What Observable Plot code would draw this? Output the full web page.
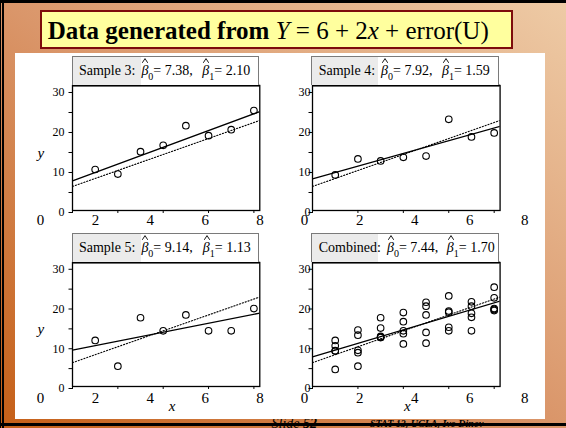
<!DOCTYPE html>
<html><head><meta charset="utf-8">
<script src="https://cdn.jsdelivr.net/npm/d3@7"></script>
<script src="https://cdn.jsdelivr.net/npm/@observablehq/plot@0.6"></script>
<style>
html,body{margin:0;padding:0;background:#fff;}
#slide{position:relative;width:566px;height:428px;overflow:hidden;
  background:linear-gradient(to top right,#c55f17 0%,#da966a 50%,#eecba6 100%);
  font-family:"Liberation Serif","Times New Roman",serif;color:#000;}
.abs{position:absolute;}
#white{left:15px;top:53px;width:530px;height:366px;background:#fff;}
#title{left:40px;top:10px;width:472.7px;height:39.3px;box-sizing:border-box;border:2.5px solid #7d0c0c;background:#ffff9e;}
#titleText{left:47.7px;top:17.6px;font-size:25px;line-height:25px;white-space:nowrap;}
.foot{white-space:nowrap;}
.hdr{box-sizing:border-box;height:29px;border:1px solid #7a7a7a;border-bottom:none;background:#fff;overflow:visible;}
.hdr .gray{position:absolute;left:0;top:0;bottom:0;background:#ebebeb;}
.hdr .txt{position:absolute;left:6.3px;top:7.3px;font-size:14px;line-height:14px;white-space:nowrap;}
.beta{position:relative;font-style:italic;display:inline-block;}
.hat{position:absolute;left:1px;top:-6px;width:6px;height:5px;overflow:visible;}
.sub{font-size:10px;position:relative;top:5px;}
.bline{left:0;width:566px;background:#000;}
.lline{top:0;height:428px;background:#000;}
svg{overflow:visible;}
</style></head>
<body>
<div id="slide">
  <div class="abs foot" style="left:271.5px;top:415.5px;font-size:14px;font-style:italic;">Slide <b>52</b></div>
  <div class="abs foot" style="left:370px;top:417.5px;font-size:10px;font-style:italic;font-weight:bold;">STAT 13, UCLA, Ivo Dinov</div>
  <div id="white" class="abs"></div>
  <div class="abs bline" style="top:0;height:2.7px;"></div>
  <div class="abs bline" style="top:422.5px;height:3px;"></div>
  <div class="abs lline" style="left:0;width:1px;"></div>
  <div class="abs lline" style="left:2px;width:2px;"></div>
  <div id="title" class="abs"></div>
  <div id="titleText" class="abs"><b>Data generated from</b> <i>Y</i> = 6 + 2<i>x</i> + error(U)</div>
</div>
<script>
// ---- data ----
const xValues = [1, 2, 3, 4, 5, 6, 7, 8];
const sample3Y = [10.25, 9.1, 14.7, 16.3, 21.2, 18.7, 20.2, 25.0];
const sample4Y = [8.9, 12.9, 12.4, 13.3, 13.6, 22.8, 18.4, 19.4];
const sample5Y = [11.6, 5.1, 17.3, 14.0, 18.0, 14.0, 14.0, 19.6];
// two further samples that only appear in the combined panel
const sampleAY = [9.0, 14.2, 12.6, 18.6, 20.2, 19.0, 21.3, 22.3];
const sampleBY = [4.3, 8.5, 12.3, 10.7, 10.9, 14.9, 17.4, 19.1];

const panelTitles = ["Sample 3:", "Sample 4:", "Sample 5:", "Combined:"];
const beta0 = [7.38, 7.92, 9.14, 7.44];
const beta1 = [2.10, 1.59, 1.13, 1.70];
const trueIntercept = 6, trueSlope = 2;

const yTicks = [0, 5, 10, 15, 20, 25, 30];
const yTickLabels = [0, 10, 20, 30];
const xTicks = [0, 2, 4, 6, 8];
const xTickLabels = ["0", "2", "4", "6", "8"];
const xAxisLabel = "x", yAxisLabel = "y";

// ---- build ----
const slide = document.getElementById("slide");
const serif = '"Liberation Serif","Times New Roman",serif';
const xDomain = [0, 8.26];

const toPts = ys => ys.map((y, i) => ({x: xValues[i], y}));
const panelData = [
  toPts(sample3Y),
  toPts(sample4Y),
  toPts(sample5Y),
  [sample3Y, sample4Y, sample5Y, sampleAY, sampleBY].flatMap(toPts)
];

const layout = [
  {l: 72, t: 85, r: 259.3, b: 210, ymax: 31.25, left: true, bottom: false, grayW: 68, gap: 9.5, stripY: 220},
  {l: 311.7, t: 85, r: 499.3, b: 210, ymax: 31.25, left: false, bottom: false, grayW: 66, gap: 9.5, stripY: 220},
  {l: 72, t: 262, r: 259.3, b: 386, ymax: 31.2, left: true, bottom: true, grayW: 68, gap: 10, stripY: 398},
  {l: 311.7, t: 262, r: 499.3, b: 386, ymax: 31.2, left: false, bottom: true, grayW: 66, gap: 8.5, stripY: 398}
];

function place(node, left, top) {
  node.style.position = "absolute";
  node.style.left = left + "px";
  node.style.top = top + "px";
  slide.appendChild(node);
}

const hatSvg = '<svg class="hat" viewBox="0 0 6 5"><polyline points="0.3,4.8 3,0.6 5.7,4.8" fill="none" stroke="black" stroke-width="0.9"/></svg>';

layout.forEach((L, i) => {
  const mL = 50, mR = 4, mT = 4, mB = 30;
  const fit = xDomain.map(x => ({x, y: beta0[i] + beta1[i] * x}));
  const truth = xDomain.map(x => ({x, y: trueIntercept + trueSlope * x}));
  const plot = Plot.plot({
    width: L.r - L.l + mL + mR,
    height: L.b - L.t + mT + mB,
    marginLeft: mL, marginRight: mR, marginTop: mT, marginBottom: mB,
    x: {domain: xDomain},
    y: {domain: [0, L.ymax]},
    style: {background: "transparent", overflow: "visible", fontFamily: serif, fontSize: "12px", color: "black"},
    marks: [
      Plot.line(truth, {x: "x", y: "y", stroke: "black", strokeWidth: 1.1, strokeDasharray: "1.2,1.8", clip: true}),
      Plot.line(fit, {x: "x", y: "y", stroke: "black", strokeWidth: 1.3, clip: true}),
      Plot.dot(panelData[i], {x: "x", y: "y", r: 3.3, stroke: "black", strokeWidth: 1.1, fill: "none"}),
      Plot.frame({stroke: "black", strokeWidth: 1.3}),
      Plot.ruleY([L.ymax], {stroke: "black", strokeWidth: 2.2}),
      Plot.axisY({ticks: yTicks, tickSize: 3.5, tickPadding: L.left ? 4.5 : -1.5, dy: 2,
        tickFormat: d => yTickLabels.includes(d) ? String(d) : "", label: null, fontSize: 12}),
      Plot.axisX({ticks: xTicks, tickSize: 3, tickFormat: () => "", label: null}),
      L.left ? Plot.text([yAxisLabel], {text: d => d, frameAnchor: "left", dx: -35, dy: 5, fontStyle: "italic", fontSize: 15}) : null,
      L.bottom ? Plot.text([xAxisLabel], {text: d => d, frameAnchor: "bottom", dx: L.left ? 6 : 1, dy: 25, fontStyle: "italic", fontSize: 15}) : null
    ]
  });
  place(plot, L.l - mL, L.t - mT);

  // x tick labels strip, spread over a wider span than the frame (as in the reference)
  const s0 = L.left ? 40 : 304, s8 = L.left ? 259.7 : 524.3, pad = 12;
  const strip = Plot.plot({
    width: s8 - s0 + 2 * pad, height: 20,
    marginLeft: pad, marginRight: pad, marginTop: 0, marginBottom: 0,
    x: {domain: [0, 8], axis: null},
    style: {background: "transparent", overflow: "visible", fontFamily: serif, color: "black"},
    marks: [
      Plot.text(xTickLabels, {x: d => +d, text: d => d, frameAnchor: "middle", fontSize: 15})
    ]
  });
  place(strip, s0 - pad, L.stripY - 10);

  // panel header box
  const hdr = document.createElement("div");
  hdr.className = "hdr";
  hdr.style.width = (L.r - L.l) + "px";
  const f = v => v.toFixed(2);
  hdr.innerHTML =
    `<div class="gray" style="width:${L.grayW}px"></div>` +
    `<div class="txt">${panelTitles[i]}<span style="display:inline-block;width:6px"></span>` +
    `<span class="beta">β${hatSvg}</span><span class="sub">0</span>= ${f(beta0[i])},` +
    `<span style="display:inline-block;width:${L.gap}px"></span>` +
    `<span class="beta">β${hatSvg}</span><span class="sub">1</span>= ${f(beta1[i])}</div>`;
  place(hdr, L.l - 0.3, L.t - 29);
});
</script>
</body></html>
